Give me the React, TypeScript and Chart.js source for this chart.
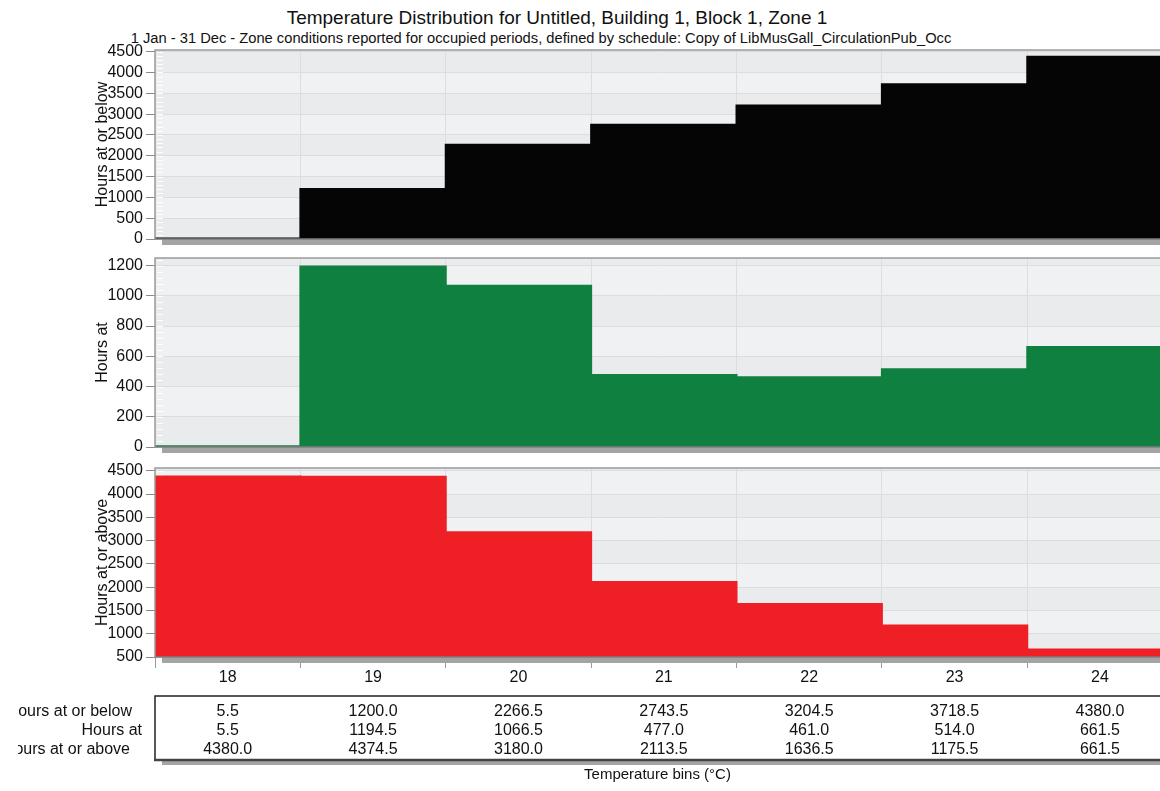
import React, { useEffect, useRef } from 'react';
import { Chart, registerables } from 'chart.js';

Chart.register(...registerables);

// ---------- data ----------
const bins = [18, 19, 20, 21, 22, 23, 24];
const hoursAtOrBelow = [5.5, 1200.0, 2266.5, 2743.5, 3204.5, 3718.5, 4380.0];
const hoursAt = [5.5, 1194.5, 1066.5, 477.0, 461.0, 514.0, 661.5];
const hoursAtOrAbove = [4380.0, 4374.5, 3180.0, 2113.5, 1636.5, 1175.5, 661.5];
const ticksBelow = [0, 500, 1000, 1500, 2000, 2500, 3000, 3500, 4000, 4500];
const ticksAt = [0, 200, 400, 600, 800, 1000, 1200];
const ticksAbove = [500, 1000, 1500, 2000, 2500, 3000, 3500, 4000, 4500];
const rowLabels = ['Hours at or below', 'Hours at', 'Hours at or above'];
const panelTitles = ['Hours at or below', 'Hours at', 'Hours at or above'];
const xTitle = 'Temperature bins (°C)';
const titleText = 'Temperature Distribution for Untitled, Building 1, Block 1, Zone 1';
const subtitleText =
  '1 Jan - 31 Dec - Zone conditions reported for occupied periods, defined by schedule: Copy of LibMusGall_CirculationPub_Occ';

// ---------- style ----------
const FONT = '"Liberation Sans", Arial, Helvetica, sans-serif';
const TEXT = '#111111';
const BAND_DARK = '#eaebed';
const BAND_LIGHT = '#eff1f2';
const GRID = '#dcdde0';
const FRAME = '#9a9a9a';
const SHADOW = '#a4a4a4';
const X_MIN = 17.5;
const X_MAX = 24.413;
const rowLabelRight = [132, 142, 130];

type Panel = {
  values: number[];
  ticks: number[];
  color: string;
  yMin: number;
  yMax: number;
  minor: number;
  title: string;
  top: number;
  height: number;
  xHeight: number;
  showX: boolean;
  table: boolean;
};

const panels: Panel[] = [
  { values: hoursAtOrBelow, ticks: ticksBelow, color: '#050505', yMin: 0, yMax: 4540, minor: 100, title: panelTitles[0], top: 34, height: 218, xHeight: 13, showX: false, table: false },
  { values: hoursAt, ticks: ticksAt, color: '#0f8040', yMin: 0, yMax: 1250, minor: 40, title: panelTitles[1], top: 242, height: 218, xHeight: 13, showX: false, table: false },
  { values: hoursAtOrAbove, ticks: ticksAbove, color: '#ee1f25', yMin: 500, yMax: 4560, minor: 100, title: panelTitles[2], top: 452, height: 339, xHeight: 134, showX: true, table: true },
];

function makePlugin(p: Panel) {
  return {
    id: 'panelDeco',
    beforeDraw(chart: any) {
      const { ctx, chartArea: a, scales } = chart;
      const y = scales.y;
      ctx.save();
      const edges = [...p.ticks, p.yMax];
      if (edges[0] > p.yMin) edges.unshift(p.yMin);
      for (let i = 0; i < edges.length - 1; i++) {
        const y0 = y.getPixelForValue(edges[i]);
        const y1 = y.getPixelForValue(edges[i + 1]);
        ctx.fillStyle = i % 2 === 0 ? BAND_DARK : BAND_LIGHT;
        ctx.fillRect(a.left, y1, a.right - a.left, y0 - y1);
      }
      ctx.restore();
    },
    beforeDatasetsDraw(chart: any) {
      const { ctx, chartArea: a, scales } = chart;
      const y = scales.y;
      ctx.save();
      ctx.strokeStyle = '#ffffff';
      ctx.lineWidth = 1;
      for (let v = p.yMin + p.minor; v < p.yMax; v += p.minor) {
        const py = Math.round(y.getPixelForValue(v)) + 0.5;
        ctx.beginPath();
        ctx.moveTo(a.left + 2, py);
        ctx.lineTo(a.left + 8, py);
        ctx.stroke();
      }
      ctx.restore();
    },
    afterDraw(chart: any) {
      const { ctx, chartArea: a, scales } = chart;
      const x = scales.x;
      ctx.save();
      // shadow under plot
      ctx.fillStyle = SHADOW;
      ctx.fillRect(a.left + 7, a.bottom, a.right - a.left, 6);
      // frame
      ctx.strokeStyle = FRAME;
      ctx.lineWidth = 1.5;
      ctx.beginPath();
      ctx.moveTo(a.left, a.bottom);
      ctx.lineTo(a.left, a.top);
      ctx.lineTo(a.right + 2, a.top);
      ctx.stroke();
      ctx.strokeStyle = '#7e7e7e';
      ctx.beginPath();
      ctx.moveTo(a.left, a.bottom);
      ctx.lineTo(a.right + 2, a.bottom);
      ctx.stroke();

      // y title (overlapping tick labels, as in reference)
      ctx.fillStyle = TEXT;
      ctx.font = `16px ${FONT}`;
      ctx.translate(103, (a.top + a.bottom) / 2);
      ctx.rotate(-Math.PI / 2);
      ctx.textAlign = 'center';
      ctx.textBaseline = 'middle';
      ctx.fillText(p.title, 0, 0);
      ctx.restore();

      if (p.table) {
        ctx.save();
        const boxTop = a.bottom + 39;
        const boxBottom = a.bottom + 103;
        // shadow
        ctx.fillStyle = SHADOW;
        ctx.fillRect(a.left + 7, boxBottom, a.right - a.left + 10, 5);
        // box
        ctx.strokeStyle = '#222222';
        ctx.lineWidth = 1.5;
        ctx.beginPath();
        ctx.moveTo(a.right + 5, boxTop);
        ctx.lineTo(a.left, boxTop);
        ctx.lineTo(a.left, boxBottom);
        ctx.stroke();
        ctx.strokeStyle = '#444444';
        ctx.lineWidth = 2.5;
        ctx.beginPath();
        ctx.moveTo(a.left - 1, boxBottom);
        ctx.lineTo(a.right + 5, boxBottom);
        ctx.stroke();

        const rows = [hoursAtOrBelow, hoursAt, hoursAtOrAbove];
        const rowY = [a.bottom + 55, a.bottom + 74, a.bottom + 93];
        ctx.fillStyle = TEXT;
        ctx.font = `16px ${FONT}`;
        ctx.textBaseline = 'middle';
        ctx.textAlign = 'center';
        rows.forEach((vals, r) => {
          vals.forEach((v, i) => {
            ctx.fillText(v.toFixed(1), x.getPixelForValue(bins[i]), rowY[r]);
          });
        });
        // row labels clipped on the left
        ctx.save();
        ctx.beginPath();
        ctx.rect(18, boxTop - 5, a.left - 18, boxBottom - boxTop + 10);
        ctx.clip();
        ctx.textAlign = 'right';
        rowLabels.forEach((lab, r) => {
          ctx.fillText(lab, rowLabelRight[r], rowY[r]);
        });
        ctx.restore();

        // x axis title
        ctx.textAlign = 'center';
        ctx.font = `15px ${FONT}`;
        ctx.fillText(xTitle, (a.left + a.right) / 2, a.bottom + 118);
        ctx.restore();
      }
    },
  };
}

function PanelChart({ p }: { p: Panel }) {
  const ref = useRef<HTMLCanvasElement | null>(null);
  useEffect(() => {
    if (!ref.current) return;
    const chart = new Chart(ref.current, {
      type: 'bar',
      data: {
        datasets: [
          {
            data: bins.map((b, i) => ({ x: b, y: p.values[i] })),
            backgroundColor: p.color,
            borderWidth: 0,
            barPercentage: 1,
            categoryPercentage: 1,
            inflateAmount: 1,
          },
        ],
      },
      options: {
        responsive: false,
        animation: false,
        events: [],
        layout: { padding: { top: 16, left: 0, right: 0, bottom: 0 } },
        plugins: { legend: { display: false }, tooltip: { enabled: false }, title: { display: false } },
        scales: {
          x: {
            type: 'linear',
            min: X_MIN,
            max: X_MAX,
            offset: false,
            border: { display: false },
            grid: {
              color: GRID,
              lineWidth: 1,
              drawTicks: p.showX,
              tickLength: 11,
              tickColor: '#9a9a9a',
            },
            ticks: {
              display: p.showX,
              padding: 0,
              color: TEXT,
              font: { family: FONT, size: 16, lineHeight: 1.2 },
              maxRotation: 0,
              autoSkip: false,
              callback: (v: any) => String(v),
            },
            afterBuildTicks: (s: any) => {
              s.ticks = bins.map((b) => ({ value: b }));
            },
            afterFit: (s: any) => {
              s.height = p.xHeight;
            },
          },
          y: {
            type: 'linear',
            min: p.yMin,
            max: p.yMax,
            border: { display: false },
            grid: {
              color: GRID,
              lineWidth: 1,
              drawTicks: true,
              tickLength: 9,
              tickColor: '#8a8a8a',
            },
            ticks: {
              padding: 3,
              color: TEXT,
              autoSkip: false,
              font: { family: FONT, size: 16, lineHeight: 1.2 },
              callback: (v: any) => String(v),
            },
            afterBuildTicks: (s: any) => {
              s.ticks = p.ticks.map((t) => ({ value: t }));
            },
            afterFit: (s: any) => {
              s.width = 155;
            },
          },
        },
      },
      plugins: [makePlugin(p)],
    } as any);
    return () => chart.destroy();
  }, [p]);
  return (
    <canvas
      ref={ref}
      width={1160}
      height={p.height}
      style={{ position: 'absolute', left: 0, top: p.top, width: 1160, height: p.height }}
    />
  );
}

export default function App() {
  return (
    <div
      style={{
        position: 'fixed',
        left: 0,
        top: 0,
        width: 1160,
        height: 791,
        overflow: 'hidden',
        background: '#ffffff',
        fontFamily: FONT,
        color: TEXT,
      }}
    >
      <div
        style={{
          position: 'absolute',
          left: 0,
          top: 7,
          width: 1114,
          textAlign: 'center',
          fontSize: 19,
          lineHeight: '22px',
          whiteSpace: 'nowrap',
        }}
      >
        {titleText}
      </div>
      <div
        style={{
          position: 'absolute',
          left: 0,
          top: 29,
          width: 1082,
          textAlign: 'center',
          fontSize: 14.7,
          lineHeight: '18px',
          whiteSpace: 'nowrap',
        }}
      >
        {subtitleText}
      </div>
      {panels.map((p, i) => (
        <PanelChart key={i} p={p} />
      ))}
    </div>
  );
}
